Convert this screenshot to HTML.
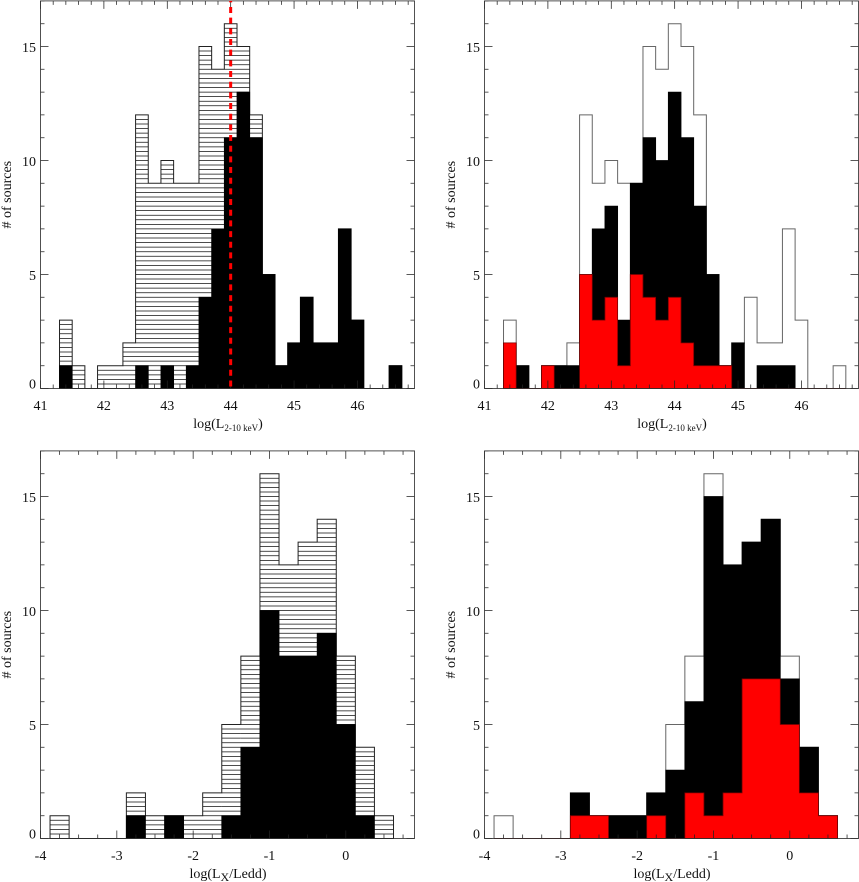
<!DOCTYPE html>
<html lang="en">
<head>
<meta charset="utf-8">
<title>Source distribution histograms</title>
<style>
html,body{margin:0;padding:0;background:#fff;width:859px;height:882px;overflow:hidden}
svg{display:block}
text{font-family:"Liberation Serif",serif;fill:#111}
</style>
</head>
<body>
<svg id="chart" width="859" height="882" viewBox="0 0 859 882" xmlns="http://www.w3.org/2000/svg"></svg>
<script>
// Bin left edges
const lumBins = [41.3,41.5,41.7,41.9,42.1,42.3,42.5,42.7,42.9,43.1,43.3,43.5,43.7,43.9,44.1,44.3,44.5,44.7,44.9,45.1,45.3,45.5,45.7,45.9,46.1,46.3,46.5];
const eddBins = [-3.875,-3.625,-3.375,-3.125,-2.875,-2.625,-2.375,-2.125,-1.875,-1.625,-1.375,-1.125,-0.875,-0.625,-0.375,-0.125,0.125,0.375];
// Luminosity histograms
const lumAll = [3,1,0,1,1,2,12,9,10,9,9,15,14,16,15,12,5,1,2,4,2,2,7,3,0,0,1];
const lumBlackLeft = [1,0,0,0,0,0,1,0,1,0,1,4,7,11,13,11,5,1,2,4,2,2,7,3,0,0,1];
const lumBlackRight = [2,1,0,1,1,1,5,7,8,3,9,11,10,13,11,8,5,1,2,0,1,1,1,0,0,0,0];
const lumRed = [2,0,0,1,0,0,5,3,4,1,5,4,3,4,2,1,1,1,0,0,0,0,0,0,0,0,0];
// Eddington ratio histograms
const eddAll = [1,0,0,0,2,1,1,1,2,5,8,16,12,13,14,8,4,1];
const eddBlackLeft = [0,0,0,0,1,0,1,0,0,1,4,10,8,8,9,5,1,0];
const eddBlackRight = [0,0,0,0,2,1,1,1,2,3,6,15,12,13,14,7,4,1];
const eddRed = [0,0,0,0,1,1,0,0,1,0,2,1,2,7,7,5,2,1];
// Tick labels and reference values
const lumTicks = [41,42,43,44,45,46];
const eddTicks = [-4,-3,-2,-1,0];
const countTicks = [0,5,10,15];
const referenceLum = [44];

const svg = document.getElementById('chart');
const NS = 'http://www.w3.org/2000/svg';

function make(tag, parent, name) {
  const el = document.createElementNS(NS, tag);
  
  
  parent.appendChild(el);
  return el;
}

function drawPanel(p) {
  const g = make('g', svg, p.name);
  const xOf = v => p.left + (v - p.xMin) / (p.xMax - p.xMin) * (p.right - p.left);
  const yOf = v => p.bottom - v / 17 * (p.bottom - p.top);
  const edge = i => i < p.bins.length ? p.bins[i] : p.bins[i - 1] + p.binWidth;

  const stepPath = values => {
    let d = 'M' + xOf(edge(0)) + ' ' + yOf(0);
    values.forEach((v, i) => {
      d += 'L' + xOf(edge(i)) + ' ' + yOf(v) + 'L' + xOf(edge(i + 1)) + ' ' + yOf(v);
    });
    return d + 'L' + xOf(edge(values.length)) + ' ' + yOf(0) + 'Z';
  };

  if (p.hatched) {
    let hd = '';
    p.all.forEach((v, i) => {
      for (let n = 1; n < v * 5; n++) {
        const y = yOf(n / 5);
        hd += 'M' + xOf(edge(i)) + ' ' + y + 'L' + xOf(edge(i + 1)) + ' ' + y;
      }
    });
    const hatch = make('path', g, 'all-sources-hatching');
    hatch.setAttribute('d', hd);
    hatch.setAttribute('stroke', '#111');
    hatch.setAttribute('stroke-width', '0.75');
    hatch.setAttribute('fill', 'none');
  }

  const outline = make('path', g, 'all-sources-outline');
  outline.setAttribute('d', stepPath(p.all));
  outline.setAttribute('fill', 'none');
  outline.setAttribute('stroke', p.hatched ? '#222' : '#666');
  outline.setAttribute('stroke-width', '1');

  const black = make('path', g, 'black-histogram');
  black.setAttribute('d', stepPath(p.black));
  black.setAttribute('fill', '#000');
  black.setAttribute('stroke', '#000');
  black.setAttribute('stroke-width', '0.8');

  if (p.red) {
    const red = make('path', g, 'red-histogram');
    red.setAttribute('d', stepPath(p.red));
    red.setAttribute('fill', '#ff0000');
    red.setAttribute('stroke', '#7a0000');
    red.setAttribute('stroke-width', '0.8');
  }

  // axes frame and ticks
  let td = '';
  const hTick = (x, y0, y1) => { td += 'M' + x + ' ' + y0 + 'L' + x + ' ' + y1; };
  const vTick = (y, x0, x1) => { td += 'M' + x0 + ' ' + y + 'L' + x1 + ' ' + y; };
  const nMinor = Math.floor((p.xMax - p.xMin) / p.xMinor + 1e-6);
  for (let i = 0; i <= nMinor; i++) {
    const x = xOf(p.xMin + i * p.xMinor);
    hTick(x, p.bottom, p.bottom - 4);
    hTick(x, p.top, p.top + 4);
  }
  p.ticks.forEach(t => {
    hTick(xOf(t), p.bottom, p.bottom - 8);
    hTick(xOf(t), p.top, p.top + 8);
  });
  for (let c = 0; c <= 17; c++) {
    const len = c % 5 === 0 ? 8 : 4;
    vTick(yOf(c), p.left, p.left + len);
    vTick(yOf(c), p.right, p.right - len);
  }
  const ticks = make('path', g, 'axis-ticks');
  ticks.setAttribute('d', td);
  ticks.setAttribute('stroke', '#222');
  ticks.setAttribute('stroke-width', '0.75');
  ticks.setAttribute('fill', 'none');

  const frame = make('rect', g, 'plot-frame');
  frame.setAttribute('x', p.left);
  frame.setAttribute('y', p.top);
  frame.setAttribute('width', p.right - p.left);
  frame.setAttribute('height', p.bottom - p.top);
  frame.setAttribute('fill', 'none');
  frame.setAttribute('stroke', '#333');
  frame.setAttribute('stroke-width', '0.85');

  if (p.refs) {
    p.refs.forEach(r => {
      const line = make('line', g, 'reference-line');
      line.setAttribute('x1', xOf(r));
      line.setAttribute('x2', xOf(r));
      line.setAttribute('y1', p.top);
      line.setAttribute('y2', p.bottom);
      line.setAttribute('stroke', '#ff0000');
      line.setAttribute('stroke-width', '3');
      line.setAttribute('stroke-dasharray', '6 4.67');
      line.setAttribute('stroke-dashoffset', '-6.1');
    });
  }

  // tick labels
  p.ticks.forEach(t => {
    const lab = make('text', g, 'x-tick-label');
    lab.setAttribute('x', xOf(t));
    lab.setAttribute('y', p.bottom + 21.5);
    lab.setAttribute('text-anchor', 'middle');
    lab.setAttribute('font-size', '14');
    lab.textContent = String(t);
  });
  countTicks.forEach(c => {
    const lab = make('text', g, 'y-tick-label');
    lab.setAttribute('x', p.left - 4.5);
    lab.setAttribute('y', yOf(c) + (c === 0 ? 0 : 5.5));
    lab.setAttribute('text-anchor', 'end');
    lab.setAttribute('font-size', '14');
    lab.textContent = String(c);
  });

  // axis titles
  const yTitle = make('text', g, 'y-axis-title');
  const yx = p.left - 29.5;
  const yy = (p.top + p.bottom) / 2;
  yTitle.setAttribute('transform', 'translate(' + yx + ' ' + yy + ') rotate(-90)');
  yTitle.setAttribute('text-anchor', 'middle');
  yTitle.setAttribute('font-size', '14');
  yTitle.textContent = '# of sources';

  const xTitle = make('text', g, 'x-axis-title');
  xTitle.setAttribute('x', (p.left + p.right) / 2 + 0.5);
  xTitle.setAttribute('y', p.bottom + 39.5);
  xTitle.setAttribute('text-anchor', 'middle');
  xTitle.setAttribute('font-size', '14');
  const t1 = make('tspan', xTitle, 'x-title-start');
  t1.textContent = p.title[0];
  const t2 = make('tspan', xTitle, 'x-title-subscript');
  t2.setAttribute('font-size', p.subSize);
  t2.setAttribute('dy', '3');
  t2.textContent = p.title[1];
  const t3 = make('tspan', xTitle, 'x-title-end');
  t3.setAttribute('dy', '-3');
  t3.textContent = p.title[2];
}

drawPanel({name:'panel-luminosity-hatched', left:40.5, right:414.5, top:0.9, bottom:388.5,
  xMin:41, xMax:46.9, xMinor:0.2, ticks:lumTicks, bins:lumBins, binWidth:0.2,
  all:lumAll, black:lumBlackLeft, hatched:true, refs:referenceLum, subSize:'9',
  title:['log(L','2-10 keV',')']});
drawPanel({name:'panel-luminosity-red', left:484.5, right:858.5, top:0.9, bottom:388.5,
  xMin:41, xMax:46.9, xMinor:0.2, ticks:lumTicks, bins:lumBins, binWidth:0.2,
  all:lumAll, black:lumBlackRight, red:lumRed, subSize:'9',
  title:['log(L','2-10 keV',')']});
drawPanel({name:'panel-eddington-hatched', left:40.5, right:414.5, top:450.9, bottom:838.5,
  xMin:-4, xMax:0.9, xMinor:0.25, ticks:eddTicks, bins:eddBins, binWidth:0.25,
  all:eddAll, black:eddBlackLeft, hatched:true, subSize:'12',
  title:['log(L','X','/Ledd)']});
drawPanel({name:'panel-eddington-red', left:484.5, right:858.5, top:450.9, bottom:838.5,
  xMin:-4, xMax:0.9, xMinor:0.25, ticks:eddTicks, bins:eddBins, binWidth:0.25,
  all:eddAll, black:eddBlackRight, red:eddRed, subSize:'12',
  title:['log(L','X','/Ledd)']});
</script>
</body>
</html>
